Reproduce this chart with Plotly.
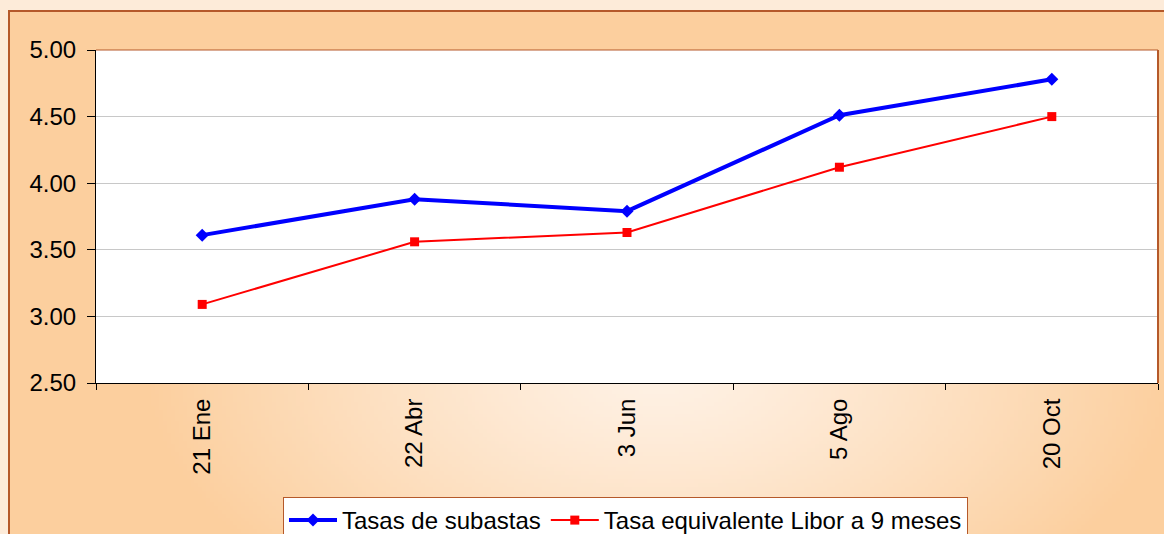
import base64
import struct
import zlib

import numpy as np
import plotly.graph_objects as go

# ---- data ----
fechas = ["21 Ene", "22 Abr", "3 Jun", "5 Ago", "20 Oct"]
tasas_subastas = [3.61, 3.88, 3.79, 4.51, 4.78]
tasa_libor_9m = [3.09, 3.56, 3.63, 4.12, 4.50]
y_ticks = [2.5, 3.0, 3.5, 4.0, 4.5, 5.0]

W, H = 1164, 534
L, R, T, B = 96, 1158, 50, 383  # plot area in px
pw, ph = R - L, B - T


def px2paper_x(px):
    return (px - L) / pw


def px2paper_y(py):
    return (B - py) / ph


# ---- gradient background image (chart area) ----
ca_x0, ca_y0, ca_x1, ca_y1 = 9, 11, 1180, 550
iw, ih = 300, 140
xs = np.linspace(ca_x0, ca_x1, iw)
ys = np.linspace(ca_y0, ca_y1, ih)
X, Y = np.meshgrid(xs, ys)
cx, cy, rx, ry = 660, 370, 520, 300
d = np.sqrt(((X - cx) / rx) ** 2 + ((Y - cy) / ry) ** 2)
t = np.clip(d, 0, 1) ** 1.2
c_in = np.array([255, 242, 230], dtype=float)
c_out = np.array([252, 207, 158], dtype=float)
img = (c_in[None, None, :] * (1 - t[..., None]) + c_out[None, None, :] * t[..., None]).astype(np.uint8)


def png_bytes(arr):
    h, w, _ = arr.shape
    raw = b"".join(b"\x00" + arr[r].tobytes() for r in range(h))

    def chunk(tag, data):
        c = struct.pack(">I", len(data)) + tag + data
        return c + struct.pack(">I", zlib.crc32(tag + data) & 0xFFFFFFFF)

    return (b"\x89PNG\r\n\x1a\n" + chunk(b"IHDR", struct.pack(">IIBBBBB", w, h, 8, 2, 0, 0, 0))
            + chunk(b"IDAT", zlib.compress(raw, 9)) + chunk(b"IEND", b""))


src = "data:image/png;base64," + base64.b64encode(png_bytes(img)).decode()

FONT = "Arial, Liberation Sans, sans-serif"
BORDER = "#B5592A"

fig = go.Figure()
fig.add_trace(go.Scatter(
    x=fechas, y=tasas_subastas, mode="lines+markers", name="Tasas de subastas",
    line=dict(color="#0000FF", width=4),
    marker=dict(symbol="diamond", size=10, color="#0000FF"),
))
fig.add_trace(go.Scatter(
    x=fechas, y=tasa_libor_9m, mode="lines+markers", name="Tasa equivalente Libor a 9 meses",
    line=dict(color="#FF0000", width=2),
    marker=dict(symbol="square", size=9, color="#FF0000"),
))

shapes = [
    # chart area border
    dict(type="rect", xref="paper", yref="paper",
         x0=px2paper_x(ca_x0), x1=px2paper_x(ca_x1), y0=px2paper_y(ca_y1), y1=px2paper_y(ca_y0),
         line=dict(color=BORDER, width=2), fillcolor="rgba(0,0,0,0)", layer="below"),
    # white plot area
    dict(type="rect", xref="paper", yref="paper", x0=0, x1=1, y0=0, y1=1,
         line=dict(width=0), fillcolor="white", layer="below"),
    # top and right plot border
    dict(type="line", xref="paper", yref="paper", x0=0, x1=1, y0=1, y1=1,
         line=dict(color=BORDER, width=1), layer="above"),
    dict(type="line", xref="paper", yref="paper", x0=1, x1=1, y0=0, y1=1,
         line=dict(color=BORDER, width=2), layer="above"),
]

fig.update_layout(
    width=W, height=H,
    margin=dict(l=L, r=W - R, t=T, b=H - B, autoexpand=False),
    paper_bgcolor="#FDEBD9",
    plot_bgcolor="white",
    font=dict(family=FONT, size=24, color="black"),
    showlegend=True,
    legend=dict(
        orientation="h", xref="container", yref="container",
        x=283 / W, y=1 - 497 / H, xanchor="left", yanchor="top",
        bgcolor="white", bordercolor=BORDER, borderwidth=1,
        font=dict(family=FONT, size=24, color="black"),
        itemwidth=48, tracegroupgap=0,
    ),
    images=[dict(source=src, xref="paper", yref="paper",
                 x=px2paper_x(ca_x0), y=px2paper_y(ca_y0),
                 sizex=px2paper_x(ca_x1) - px2paper_x(ca_x0),
                 sizey=px2paper_y(ca_y0) - px2paper_y(ca_y1),
                 xanchor="left", yanchor="top", sizing="stretch", layer="below")],
    shapes=shapes,
)

fig.update_xaxes(
    type="category", range=[-0.5, 4.5], tickson="boundaries",
    ticks="outside", ticklen=6, tickcolor="black", tickwidth=1,
    showline=True, linecolor="black", linewidth=1,
    tickangle=-90, showgrid=False, zeroline=False, automargin=False,
    ticklabelstandoff=5,
    tickfont=dict(family=FONT, size=24, color="black"),
)
fig.update_yaxes(
    range=[2.5, 5.0], tickvals=y_ticks, ticktext=[f"{v:.2f}" for v in y_ticks],
    ticks="outside", ticklen=8, tickcolor="black", tickwidth=1,
    showline=True, linecolor="black", linewidth=1,
    showgrid=True, gridcolor="#C8C8C8", gridwidth=1, zeroline=False, automargin=False,
    ticklabelstandoff=6,
    tickfont=dict(family=FONT, size=24, color="black"),
)

fig.write_html(
    "out.html",
    config={"displayModeBar": False},
    post_script="document.body.style.margin='0';document.body.style.overflow='hidden';",
)
